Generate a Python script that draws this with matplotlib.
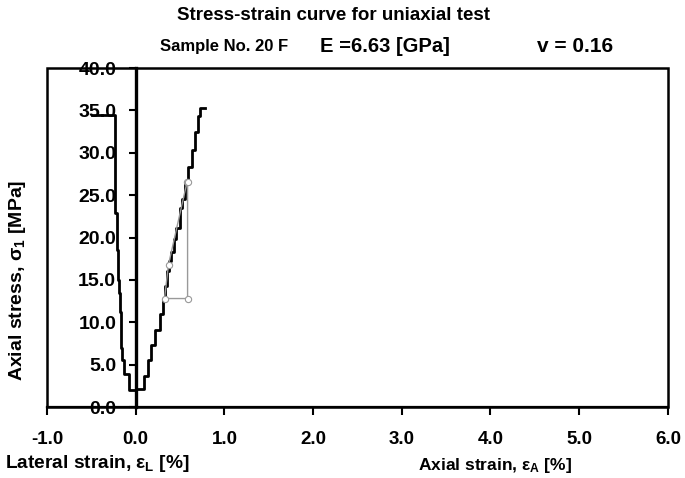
import matplotlib
matplotlib.use("Agg")
import matplotlib.pyplot as plt
from matplotlib.patches import Rectangle

plt.rcParams["font.family"] = ["Liberation Sans", "DejaVu Sans"]
plt.rcParams["font.weight"] = "bold"
plt.rcParams["mathtext.fontset"] = "custom"
plt.rcParams["mathtext.rm"] = "Liberation Sans"
plt.rcParams["mathtext.it"] = "Liberation Sans"

# Curva axial (deformacao axial %, tensao MPa)
axial_strain = [0.0, 0.098, 0.138, 0.176, 0.221, 0.27, 0.307, 0.333, 0.35, 0.37, 0.40,
                0.427, 0.46, 0.50, 0.52, 0.56, 0.585, 0.63, 0.67, 0.70, 0.725, 0.78]
axial_stress = [2.1, 3.7, 5.5, 7.3, 9.1, 11.0, 12.6, 14.3, 16.0, 17.2, 18.3,
                19.8, 21.1, 23.5, 24.5, 26.4, 28.3, 30.3, 32.5, 34.3, 35.3, 35.3]

# Curva lateral
lateral_strain = [0.0, -0.07, -0.135, -0.15, -0.16, -0.175, -0.19, -0.205, -0.21, -0.23, -0.49]
lateral_stress = [2.0, 3.9, 5.5, 7.0, 11.2, 13.5, 15.0, 18.5, 22.9, 34.4, 34.4]

# Linha auxiliar do modulo E
mod_strain = [0.58, 0.37, 0.325, 0.585, 0.585]
mod_stress = [26.6, 16.8, 12.8, 12.8, 26.6]

x_ticks = [-1, 0, 1, 2, 3, 4, 5, 6]
y_ticks = [0, 5, 10, 15, 20, 25, 30, 35, 40]

fig = plt.figure(figsize=(6.85, 4.78), dpi=100)
ax = fig.add_axes([0.0686, 0.1485, 0.9064, 0.7092])

ax.plot(mod_strain, mod_stress, color="#999999", lw=1.0, marker="o", ms=4.5,
        mfc="white", mec="#999999", mew=0.8, zorder=3)
ax.plot(axial_strain, axial_stress, color="black", lw=2.0, drawstyle="steps-post", zorder=2)
ax.plot(lateral_strain, lateral_stress, color="black", lw=2.0, drawstyle="steps-post", zorder=2)

ax.set_xlim(-1, 6)
ax.set_ylim(0, 40)
ax.set_xticks(x_ticks)
ax.set_yticks(y_ticks)
ax.set_xticklabels(["%.1f" % v for v in x_ticks])
ax.set_yticklabels(["%.1f" % v for v in y_ticks])

for s in ["top", "right"]:
    ax.spines[s].set_visible(False)
ax.spines["left"].set_position(("data", 0))
ax.spines["left"].set_linewidth(2.4)
ax.spines["bottom"].set_linewidth(1.6)
ax.add_patch(Rectangle((0, 0), 1, 1, transform=ax.transAxes, fill=False,
                       lw=1.8, ec="black", clip_on=False, zorder=1))

ax.tick_params(axis="y", direction="out", length=5, width=1.5, pad=9, labelsize=14)
ax.tick_params(axis="x", direction="out", length=6, width=1.5, pad=11, labelsize=13.5)

fig.text(0.487, 0.968, "Stress-strain curve for uniaxial test", ha="center", va="center",
         fontsize=13.5, fontweight="bold")
fig.text(0.233, 0.902, "Sample No. 20 F", ha="left", va="center", fontsize=12, fontweight="bold")
fig.text(0.467, 0.902, "E =6.63 [GPa]", ha="left", va="center", fontsize=14.5, fontweight="bold")
fig.text(0.784, 0.902, "v = 0.16", ha="left", va="center", fontsize=15, fontweight="bold")

fig.text(0.007, 0.031, r"Lateral strain, ε$_{\mathrm{L}}$ [%]", ha="left", va="center",
         fontsize=13.8, fontweight="bold")
fig.text(0.61, 0.027, r"Axial strain, ε$_{\mathrm{A}}$ [%]", ha="left", va="center",
         fontsize=12.5, fontweight="bold")
fig.text(0.026, 0.414, r"Axial stress, σ$_{\mathrm{1}}$ [MPa]", ha="center", va="center",
         rotation=90, fontsize=14, fontweight="bold")

plt.savefig("out.png", dpi=100)
